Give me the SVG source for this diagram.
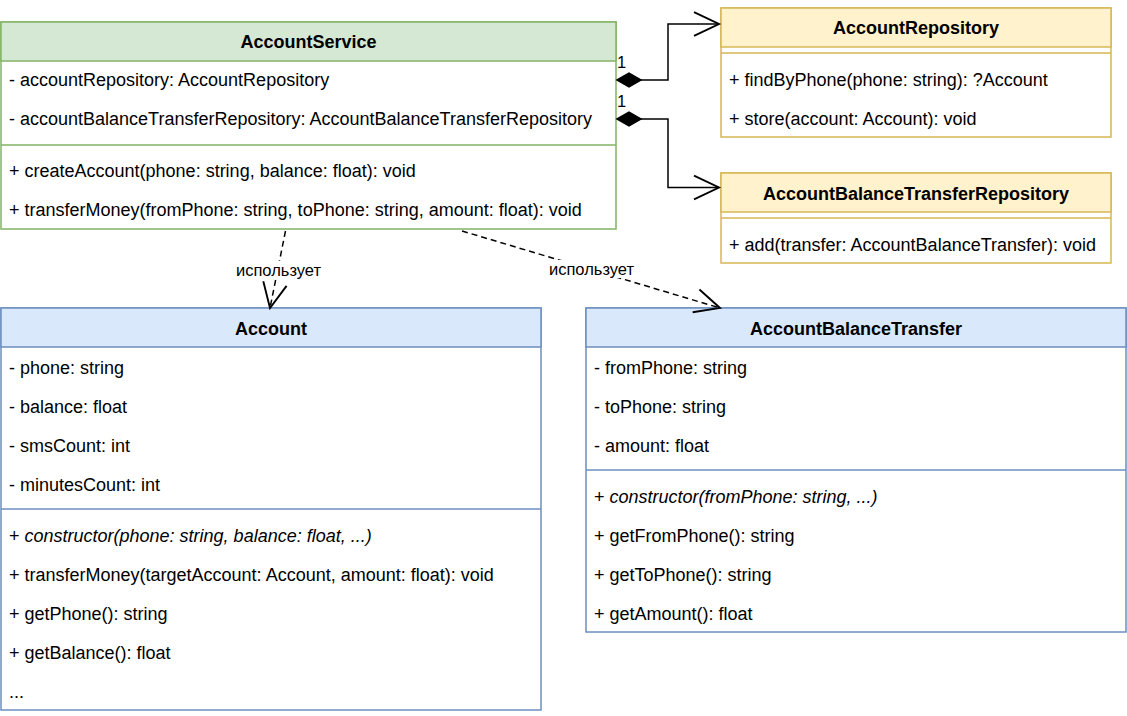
<svg xmlns="http://www.w3.org/2000/svg" width="1127" height="716" viewBox="0 0 1127 716">
<style>
text{font-family:"Liberation Sans",Arial,sans-serif;font-size:18px;fill:#000}
.t{font-weight:bold;text-anchor:middle}
.i{font-style:italic}
.lbl{font-size:16.5px}
.g rect,.g line{stroke:#82b366}
.y rect,.y line{stroke:#d6b656}
.b rect,.b line{stroke:#6c8ebf}
rect,line.sep{stroke-width:1.5}
.body{fill:#fff}
.g .hd{fill:#d5e8d4}
.y .hd{fill:#fff2cc}
.b .hd{fill:#dae8fc}
.c{fill:none;stroke:#000;stroke-width:1.5}
.d{stroke-dasharray:6 4}
</style>
<defs>
<marker id="open" markerUnits="userSpaceOnUse" markerWidth="30" markerHeight="30" viewBox="-22 -12 24 24" refX="0" refY="0" orient="auto" overflow="visible">
<path d="M-20,-9.5 L0,0 L-20,9.5" fill="none" stroke="#000" stroke-width="1.5"/>
</marker>
<marker id="dia" markerUnits="userSpaceOnUse" markerWidth="30" markerHeight="20" viewBox="-2 -10 30 20" refX="0" refY="0" orient="auto" overflow="visible">
<path d="M0,0 L12,-7 L24,0 L12,7 Z" fill="#000" stroke="#000" stroke-width="1.5"/>
</marker>
</defs>
<rect width="1127" height="716" fill="#fff"/>

<g id="AccountService" class="g">
<rect class="body" x="1" y="22" width="615" height="207"/>
<rect class="hd" x="1" y="22" width="615" height="39"/>
<line class="sep" x1="1" y1="145" x2="616" y2="145"/>
<text class="t" x="308.5" y="48">AccountService</text>
<text x="9" y="86">- accountRepository: AccountRepository</text>
<text x="9" y="125">- accountBalanceTransferRepository: AccountBalanceTransferRepository</text>
<text x="9" y="177">+ createAccount(phone: string, balance: float): void</text>
<text x="9" y="216">+ transferMoney(fromPhone: string, toPhone: string, amount: float): void</text>
</g>

<g id="AccountRepository" class="y">
<rect class="body" x="721" y="8" width="390" height="129"/>
<rect class="hd" x="721" y="8" width="390" height="39"/>
<line class="sep" x1="721" y1="53" x2="1111" y2="53"/>
<text class="t" x="916" y="34">AccountRepository</text>
<text x="729" y="86">+ findByPhone(phone: string): ?Account</text>
<text x="729" y="125">+ store(account: Account): void</text>
</g>

<g id="AccountBalanceTransferRepository" class="y">
<rect class="body" x="721" y="173" width="390" height="90"/>
<rect class="hd" x="721" y="173" width="390" height="39"/>
<line class="sep" x1="721" y1="218" x2="1111" y2="218"/>
<text class="t" x="916" y="200">AccountBalanceTransferRepository</text>
<text x="729" y="251">+ add(transfer: AccountBalanceTransfer): void</text>
</g>

<g id="Account" class="b">
<rect class="body" x="1" y="308" width="540" height="402"/>
<rect class="hd" x="1" y="308" width="540" height="39"/>
<line class="sep" x1="1" y1="509" x2="541" y2="509"/>
<text class="t" x="271" y="335">Account</text>
<text x="9" y="374">- phone: string</text>
<text x="9" y="413">- balance: float</text>
<text x="9" y="452">- smsCount: int</text>
<text x="9" y="491">- minutesCount: int</text>
<text x="9" y="542">+ <tspan class="i">constructor(phone: string, balance: float, ...)</tspan></text>
<text x="9" y="581">+ transferMoney(targetAccount: Account, amount: float): void</text>
<text x="9" y="620">+ getPhone(): string</text>
<text x="9" y="659">+ getBalance(): float</text>
<text x="9" y="698">...</text>
</g>

<g id="AccountBalanceTransfer" class="b">
<rect class="body" x="586" y="308" width="540" height="324"/>
<rect class="hd" x="586" y="308" width="540" height="39"/>
<line class="sep" x1="586" y1="470" x2="1126" y2="470"/>
<text class="t" x="856" y="335">AccountBalanceTransfer</text>
<text x="594" y="374">- fromPhone: string</text>
<text x="594" y="413">- toPhone: string</text>
<text x="594" y="452">- amount: float</text>
<text x="594" y="503">+ <tspan class="i">constructor(fromPhone: string, ...)</tspan></text>
<text x="594" y="542">+ getFromPhone(): string</text>
<text x="594" y="581">+ getToPhone(): string</text>
<text x="594" y="620">+ getAmount(): float</text>
</g>

<g id="connectors">
<path class="c" d="M617,80 H668 V24 H719" marker-start="url(#dia)" marker-end="url(#open)"/>
<text class="lbl" x="617" y="68">1</text>
<path class="c" d="M617,119 H668 V187.5 H719" marker-start="url(#dia)" marker-end="url(#open)"/>
<text class="lbl" x="617" y="107">1</text>
<path class="c d" d="M285.5,231 L270,308" marker-end="url(#open)"/>
<rect x="235" y="261" width="87" height="18" fill="#fff" stroke="none"/>
<text class="lbl" x="278.5" y="276" text-anchor="middle">использует</text>
<path class="c d" d="M462,231 L720,308" marker-end="url(#open)"/>
<rect x="548" y="260" width="87" height="18" fill="#fff" stroke="none"/>
<text class="lbl" x="591.5" y="275" text-anchor="middle">использует</text>
</g>
</svg>
